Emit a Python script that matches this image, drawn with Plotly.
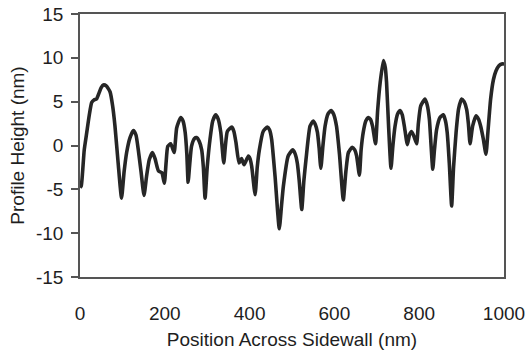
import plotly.graph_objects as go

position_nm = [0, 3, 6, 10, 16, 22, 27.5, 33, 39, 45, 50, 55, 62, 71, 77, 82.5, 90, 98, 104, 110,
               118, 126, 132, 137.5, 144, 151, 157, 163.5, 171, 177, 185, 193, 199, 203, 207, 214,
               222, 228, 237.5, 243, 248, 252, 255, 259, 263, 270, 275, 281, 287, 291, 295, 300,
               306.6, 313, 320, 326, 332, 339, 343, 347.5, 358, 363, 368, 375, 381, 387, 397, 401,
               405, 413, 418, 423, 432, 442, 447, 452, 460, 470, 475, 479.5, 491, 501.5, 507, 512.5,
               517, 523, 528, 533, 542.5, 550, 555, 560, 564, 568, 573, 578, 585, 592, 598, 605,
               612, 621, 627, 633, 642, 648, 652.5, 659, 663, 668, 674, 680, 685, 690, 697, 702,
               708, 715.5, 720, 723, 728, 733.5, 738, 743, 749, 755, 760, 765, 772, 777, 782, 788,
               794, 798, 803.5, 813.5, 819, 824, 828, 832, 836, 841, 849, 857, 862, 866, 871, 876.5,
               881, 887, 893, 900, 906, 912, 916, 920, 926, 934, 940, 945, 951, 957.5, 962, 968.5,
               975, 981, 988, 994.5, 1000]
height_nm = [-4.8, -4.6, -3.1, -0.5, 1.5, 3.5, 4.9, 5.2, 5.3, 6.0, 6.6, 6.9, 6.8, 6.1, 4.5, 2.2, -2.0, -6.0, -3.0, -0.8,
             0.9, 1.7, 1.2, -0.5, -3.0, -5.7, -3.5, -1.6, -0.8, -1.5, -2.9, -3.1, -4.3, -2.0, -0.1, 0.2,
             -0.8, 2.0, 3.2, 2.8, 1.5, -1.0, -4.2, -2.0, -0.1, 0.8, 0.9, 0.5, -0.5, -2.5, -6.0, -2.5,
             0.7, 2.8, 3.5, 3.0, 1.5, -2.0, 0.0, 1.6, 2.1, 1.6, 0.3, -2.0, -1.5, -2.2, -1.2, -1.5,
             -2.4, -5.6, -2.5, -0.5, 1.6, 2.1, 1.8, 0.7, -3.5, -9.5, -7.0, -4.7, -1.2, -0.5, -0.9, -2.0,
             -4.0, -7.3, -4.0, -1.6, 2.2, 2.8, 2.4, 1.5, -0.3, -2.6, 0.0, 2.2, 3.6, 4.0, 3.6, 2.2,
             -1.0, -6.2, -3.0, -0.8, -0.2, -0.5, -1.2, -3.4, -0.5, 1.5, 2.8, 3.2, 3.0, 2.2, 0.2, 4.0,
             7.2, 9.7, 8.9, 7.2, 2.0, -2.6, 0.0, 2.2, 3.6, 4.0, 3.5, 2.2, 0.1, 1.2, 1.6, 1.0,
             0.2, 2.5, 4.5, 5.3, 4.6, 3.0, 0.0, -2.7, -0.5, 1.8, 3.2, 3.5, 2.8, 1.5, -2.0, -6.9,
             -2.5, 1.5, 4.2, 5.3, 5.0, 4.1, 2.5, 0.2, 2.2, 3.4, 3.0, 2.2, 0.8, -1.0, 1.5, 5.3,
             7.5, 8.5, 9.1, 9.3, 9.3]

x_ticks = [0, 200, 400, 600, 800, 1000]
x_tick_labels = ["0", "200", "400", "600", "800", "1000"]
y_ticks = [-15, -10, -5, 0, 5, 10, 15]
y_tick_labels = ["-15", "-10", "-5", "0", "5", "10", "15"]

FONT = "Liberation Sans, Arial, sans-serif"

fig = go.Figure()
fig.add_trace(go.Scatter(
    x=position_nm, y=height_nm, mode="lines",
    line=dict(color="#262626", width=3.6, shape="spline", smoothing=0.5),
    showlegend=False,
))

fig.update_layout(
    width=526, height=350,
    margin=dict(l=80, r=22, t=14, b=73),
    paper_bgcolor="white", plot_bgcolor="white",
    font=dict(family=FONT, size=19, color="#1e1e1e"),
)
fig.update_xaxes(
    range=[0, 1000], tickvals=x_ticks, ticktext=x_tick_labels, ticks="",
    showgrid=False, zeroline=False, automargin=False,
    showline=True, linecolor="#555555", linewidth=1.5, mirror=True,
    ticklabelstandoff=18,
    title=dict(text="Position Across Sidewall (nm)", standoff=12, font=dict(size=19)),
    tickfont=dict(size=19),
)
fig.update_yaxes(
    range=[-15, 15], tickvals=y_ticks, ticktext=y_tick_labels, ticks="outside",
    ticklen=7, tickwidth=1.5, tickcolor="#555555",
    showgrid=False, zeroline=False, automargin=False,
    showline=True, linecolor="#555555", linewidth=1.5, mirror=True,
    ticklabelstandoff=4,
    title=dict(text="Profile Height (nm)", standoff=6, font=dict(size=19)),
    tickfont=dict(size=19),
)

# remove the browser's default 8px page margin so the figure fills the window
fig.write_html("out.html", config={"displayModeBar": False},
               post_script="document.body.style.margin='0';")
